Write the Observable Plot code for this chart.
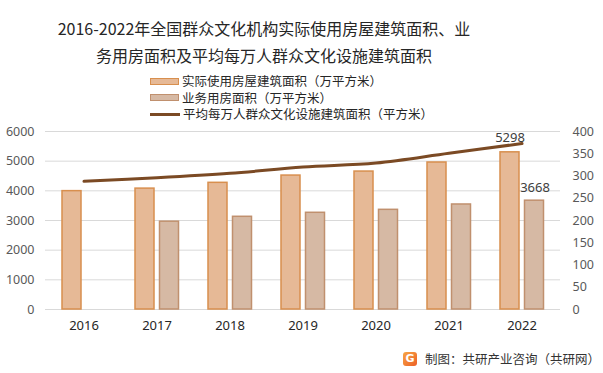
<!DOCTYPE html>
<html><head><meta charset="utf-8">
<script src="https://cdn.jsdelivr.net/npm/d3@7"></script>
<script src="https://cdn.jsdelivr.net/npm/@observablehq/plot@0.6"></script>
<style>
body{margin:0;background:#fff;font-family:"Noto Sans CJK SC","Noto Sans",sans-serif;}
#wrap{position:relative;width:603px;height:373px;overflow:hidden;}
#title{position:absolute;left:0;width:528px;top:15px;text-align:center;font-size:16px;line-height:27px;color:#262626;}
#legend{position:absolute;left:150px;top:73px;font-size:12.5px;color:#262626;line-height:16.5px;}
#legend .row{display:flex;align-items:center;height:16.5px;}
#legend .sw{width:29px;height:7px;margin-right:3px;box-sizing:border-box;}
#legend .ln{width:30px;height:3px;margin-right:3px;background:#7b4a24;}
#chart{position:absolute;left:0;top:0;}
#cap{position:absolute;left:403px;top:349px;font-size:12.5px;color:#333;display:flex;align-items:center;}
#cap .logo{width:14px;height:14px;border-radius:3px;background:linear-gradient(135deg,#f7a545,#ec5f26);color:#fff;font:bold 11px "DejaVu Sans";display:flex;align-items:center;justify-content:center;margin-right:8px;}
</style></head>
<body><div id="wrap">
<div id="chart"></div>
<div id="title">2016-2022年全国群众文化机构实际使用房屋建筑面积、业<br>务用房面积及平均每万人群众文化设施建筑面积</div>
<div id="legend">
<div class="row"><div class="sw" style="background:#e6b996;border:1.5px solid #d88f4e"></div>实际使用房屋建筑面积（万平方米）</div>
<div class="row"><div class="sw" style="background:#d6b9a4;border:1.5px solid #c0906e"></div>业务用房面积（万平方米）</div>
<div class="row"><div class="ln"></div>平均每万人群众文化设施建筑面积（平方米）</div>
</div>
<div id="cap"><div class="logo">G</div>制图：共研产业咨询（共研网）</div>
</div>
<script>
const years = ["2016","2017","2018","2019","2020","2021","2022"];
const actualArea = [3990, 4075, 4270, 4515, 4650, 4955, 5298];
const businessArea = [null, 2960, 3125, 3260, 3360, 3540, 3668];
const perTenThousand = [288, 296, 306, 320, 329, 351, 373];
const leftTicks = [0,1000,2000,3000,4000,5000,6000];
const rightTicks = [0,50,100,150,200,250,300,350,400];
const ratio = 6000/400;

const actualData = years.map((y,i)=>({year:y, v:actualArea[i]}));
const businessData = years.map((y,i)=>({year:y, v:businessArea[i]})).filter(d=>d.v!=null);
const lineData = years.map((y,i)=>({year:y, v:perTenThousand[i]*ratio}));
const labelActual = actualData.filter(d=>d.year==="2022");
const labelBusiness = businessData.filter(d=>d.year==="2022");

const font = "Noto Sans, sans-serif";
const chart = Plot.plot({
  width:603, height:373,
  marginTop:131, marginBottom:64, marginLeft:45, marginRight:43,
  style:{fontFamily:font, fontSize:"12.5px", color:"#595959", background:"transparent"},
  x:{domain:years, padding:0, axis:null},
  y:{domain:[0,6000], axis:null},
  marks:[
    Plot.ruleY(leftTicks,{stroke:"#d9d9d9", strokeWidth:1}),
    Plot.axisY({ticks:leftTicks, tickSize:0, tickPadding:11, tickFormat:d=>String(d), fill:"#595959", label:null}),
    Plot.axisY({anchor:"right", ticks:rightTicks.map(d=>d*ratio), tickSize:0, tickPadding:12, tickFormat:d=>String(d/ratio), fill:"#595959", label:null}),
    Plot.axisX({tickSize:0, tickPadding:11, fill:"#262626", fontSize:13, label:null}),
    Plot.barY(actualData,{x:"year", y:"v", fill:"#e6b996", stroke:"#d88f4e", strokeWidth:1.5, insetLeft:15, insetRight:39}),
    Plot.barY(businessData,{x:"year", y:"v", fill:"#d6b9a4", stroke:"#c0906e", strokeWidth:1.5, insetLeft:39.5, insetRight:14.5}),
    Plot.text(labelActual,{x:"year", y:"v", text:d=>String(d.v), dx:-12, dy:-14, fill:"#404040", fontSize:13}),
    Plot.text(labelBusiness,{x:"year", y:"v", text:d=>String(d.v), dx:13, dy:-13, fill:"#404040", fontSize:13}),
    Plot.line(lineData,{x:"year", y:"v", stroke:"#7b4a24", strokeWidth:3, curve:"catmull-rom"})
  ]
});
document.getElementById("chart").appendChild(chart);
</script>
</body></html>
